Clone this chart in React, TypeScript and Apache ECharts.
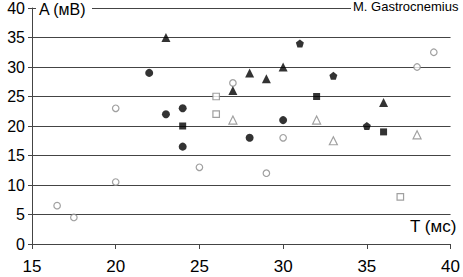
import React, { useEffect, useRef } from "react";
import * as echarts from "echarts";

const xTicks = [15, 20, 25, 30, 35, 40];
const yTicks = [0, 5, 10, 15, 20, 25, 30, 35, 40];

const filledCircle = [[22, 29], [23, 22], [24, 23], [24, 16.5], [28, 18], [30, 21]];
const openCircle = [[16.5, 6.5], [17.5, 4.5], [20, 10.5], [20, 23], [27, 27.3], [38, 30], [39, 32.5], [25, 13], [29, 12], [30, 18]];
const filledTriangle = [[23, 35], [27, 26], [28, 29], [29, 28], [30, 30], [36, 24]];
const openTriangle = [[27, 21], [32, 21], [33, 17.5], [38, 18.5]];
const filledSquare = [[24, 20], [32, 25], [36, 19]];
const openSquare = [[26, 25], [26, 22], [37, 8]];
const filledPentagon = [[31, 34], [33, 28.5], [35, 20]];

const pentagon = "path://M50,0 L100,38 L81,100 L19,100 L0,38 Z";

export default function App() {
  const ref = useRef<HTMLDivElement>(null);
  useEffect(() => {
    const chart = echarts.init(ref.current!, null, { renderer: "svg" });
    const filled = (data: number[][], symbol: string, size: number) => ({
      type: "scatter", data, symbol, symbolSize: size,
      itemStyle: { color: "#000" }, z: 5,
    });
    const open = (data: number[][], symbol: string, size: number) => ({
      type: "scatter", data, symbol, symbolSize: size,
      itemStyle: { color: "#fff", borderColor: "#888", borderWidth: 1.2 }, z: 5,
    });
    chart.setOption({
      animation: false,
      grid: { left: 32, right: 10, top: 8, bottom: 33 },
      xAxis: {
        type: "value", min: xTicks[0], max: xTicks[xTicks.length - 1], interval: 5,
        axisLine: { show: true, lineStyle: { color: "#444", width: 1 } },
        axisTick: { show: true, length: 5, lineStyle: { color: "#444" } },
        axisLabel: { color: "#000", fontSize: 17, fontFamily: "Liberation Sans", margin: 14 },
        splitLine: { show: false },
      },
      yAxis: {
        type: "value", min: yTicks[0], max: yTicks[yTicks.length - 1], interval: 5,
        axisLine: { show: true, lineStyle: { color: "#444", width: 1 } },
        axisTick: { show: true, length: 4, lineStyle: { color: "#444" } },
        axisLabel: { color: "#000", fontSize: 16, fontFamily: "Liberation Sans", margin: 7 },
        splitLine: { show: true, lineStyle: { color: "#444", width: 1.2 } },
      },
      series: [
        filled(filledCircle, "circle", 8),
        open(openCircle, "circle", 6.5),
        filled(filledTriangle, "triangle", 9),
        open(openTriangle, "triangle", 8),
        filled(filledSquare, "rect", 7),
        open(openSquare, "rect", 6.5),
        filled(filledPentagon, pentagon, 8),
      ],
      graphic: [
        { type: "rect", left: 36, top: 0, shape: { width: 56, height: 18 }, style: { fill: "#fff" }, z: 10 },
        { type: "text", left: 39, top: 1, style: { text: "A (мВ)", fontSize: 16, fontFamily: "Liberation Sans", fill: "#000" }, z: 11 },
        { type: "rect", left: 351, top: 0, shape: { width: 112, height: 14 }, style: { fill: "#fff" }, z: 10 },
        { type: "text", left: 353, top: 0, style: { text: "M. Gastrocnemius", fontSize: 13, fontFamily: "Liberation Sans", fill: "#000" }, z: 11 },
        { type: "rect", left: 408, top: 217, shape: { width: 55, height: 19 }, style: { fill: "#fff" }, z: 10 },
        { type: "text", left: 410, top: 218, style: { text: "T (мс)", fontSize: 17, fontFamily: "Liberation Sans", fill: "#000" }, z: 11 },
      ],
    });
    return () => chart.dispose();
  }, []);
  return <div ref={ref} style={{ width: 463, height: 277, position: "absolute", left: 0, top: 0 }} />;
}
